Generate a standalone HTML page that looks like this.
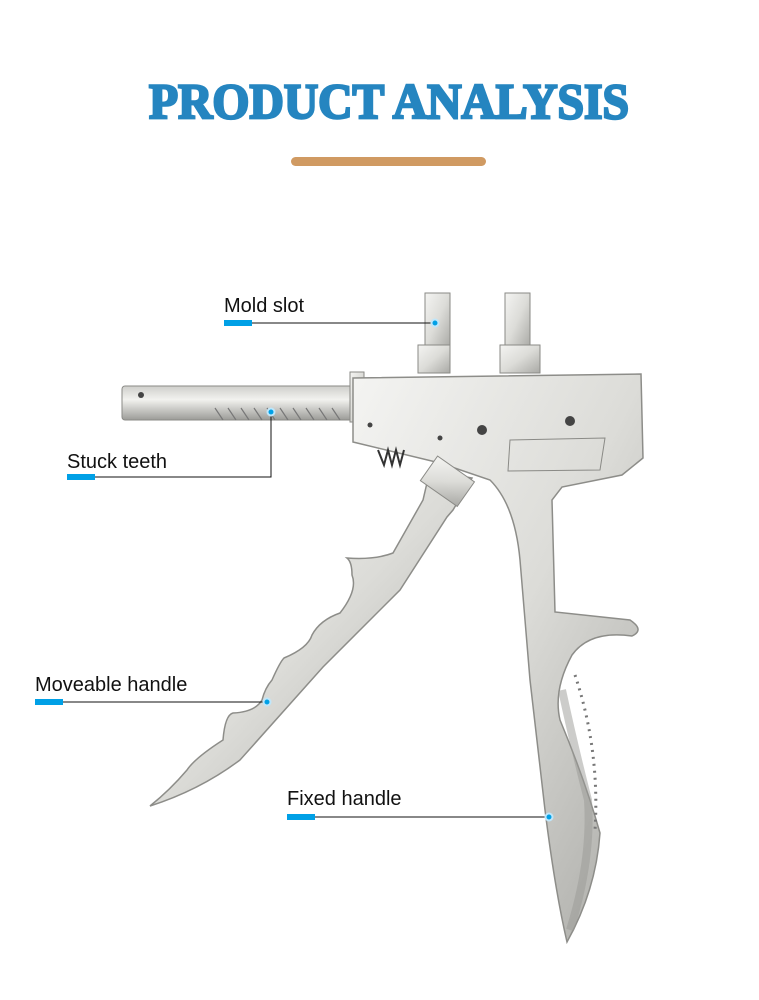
<!DOCTYPE html>
<html><head><meta charset="utf-8"><style>
body{margin:0;background:#fff;width:759px;height:1000px;overflow:hidden}
svg{display:block}
</style></head><body>
<svg width="759" height="1000" viewBox="0 0 759 1000" xmlns="http://www.w3.org/2000/svg">
<defs>
<linearGradient id="m" x1="0" y1="0" x2="1" y2="1">
<stop offset="0" stop-color="#f4f4f2"/><stop offset="0.5" stop-color="#dcdcd8"/><stop offset="1" stop-color="#a9a9a5"/>
</linearGradient>
<linearGradient id="b" x1="0" y1="0" x2="0" y2="1">
<stop offset="0" stop-color="#cfcfcb"/><stop offset="0.4" stop-color="#f2f2ef"/><stop offset="1" stop-color="#9c9c98"/>
</linearGradient>
</defs>
<text x="389" y="118" text-anchor="middle" font-family="Liberation Serif, serif" font-weight="bold" font-size="50" fill="#2585c0" stroke="#2585c0" stroke-width="2.5" textLength="480" lengthAdjust="spacingAndGlyphs">PRODUCT ANALYSIS</text>
<rect x="291" y="157" width="195" height="9" rx="4.5" fill="#d09a62"/>

<rect x="425" y="293" width="25" height="55" fill="url(#m)" stroke="#8a8a86"/>
<rect x="418" y="345" width="32" height="28" fill="url(#m)" stroke="#8a8a86"/>
<rect x="505" y="293" width="25" height="55" fill="url(#m)" stroke="#8a8a86"/>
<rect x="500" y="345" width="40" height="28" fill="url(#m)" stroke="#8a8a86"/>
<rect x="122" y="386" width="235" height="34" rx="3" fill="url(#b)" stroke="#8a8a86"/>
<g stroke="#777" stroke-width="1.2">
<path d="M215 408 l8 12 M228 408 l8 12 M241 408 l8 12 M254 408 l8 12 M267 408 l8 12 M280 408 l8 12 M293 408 l8 12 M306 408 l8 12 M319 408 l8 12 M332 408 l8 12"/>
</g>
<circle cx="141" cy="395" r="3" fill="#444"/>
<rect x="350" y="372" width="14" height="50" fill="url(#m)" stroke="#8a8a86"/>
<path d="M353 378 L641 374 L643 458 L622 475 L562 487 L552 500 L555 612 L630 620 Q645 630 632 636 Q590 630 572 655 Q553 690 560 720 Q585 780 600 833 Q596 890 567 942 Q555 890 545 810 L530 680 L520 560 Q515 505 490 480 L440 463 L353 442 Z" fill="url(#m)" stroke="#8d8d89" stroke-width="1.5"/>
<path d="M562 690 Q575 750 588 800 Q592 860 570 930" stroke="#9a9a96" stroke-width="8" fill="none" opacity="0.5"/>
<path d="M575 675 Q600 750 595 830" stroke="#777" stroke-width="3" fill="none" stroke-dasharray="2 5"/>
<path d="M510 440 L605 438 L600 470 L508 471 Z" fill="none" stroke="#8a8a86"/>
<circle cx="482" cy="430" r="5" fill="#444"/><circle cx="570" cy="421" r="5" fill="#444"/>
<circle cx="370" cy="425" r="2.5" fill="#444"/><circle cx="440" cy="438" r="2.5" fill="#444"/>
<path d="M378 450 l6 15 l4 -15 l4 15 l4 -15 l4 15 l4 -15" stroke="#333" stroke-width="2" fill="none"/>
<path d="M430 470 L472 478 L453 510 L447 517 L400 590 L323 667 L240 760 Q200 790 150 806 Q170 790 187 770 Q195 758 223 740 Q225 715 233 713 Q255 712 262 700 Q265 688 272 680 Q280 662 284 658 Q308 648 312 635 Q320 620 340 613 Q358 590 352 575 Q352 562 347 558 Q375 560 393 553 L423 500 Z" fill="url(#m)" stroke="#8d8d89" stroke-width="1.5"/>
<rect x="425" y="466" width="45" height="30" fill="url(#m)" stroke="#8a8a86" transform="rotate(35 447 481)"/>

<g font-family="Liberation Sans, sans-serif" font-size="20" fill="#111">
<text x="224" y="312">Mold slot</text>
<text x="67" y="468">Stuck teeth</text>
<text x="35" y="691">Moveable handle</text>
<text x="287" y="805">Fixed handle</text>
</g>
<g fill="#00a0e6">
<rect x="224" y="320" width="28" height="6"/>
<rect x="67" y="474" width="28" height="6"/>
<rect x="35" y="699" width="28" height="6"/>
<rect x="287" y="814" width="28" height="6"/>
</g>
<g stroke="#111" stroke-width="1" fill="none">
<path d="M252 323 H435"/>
<path d="M95 477 H271 V412"/>
<path d="M63 702 H267"/>
<path d="M315 817 H549"/>
</g>
<g fill="#00a0e6" stroke="#bfe6fa" stroke-width="2">
<circle cx="435" cy="323" r="3.5"/>
<circle cx="271" cy="412" r="3.5"/>
<circle cx="267" cy="702" r="3.5"/>
<circle cx="549" cy="817" r="3.5"/>
</g>
</svg>
</body></html>
